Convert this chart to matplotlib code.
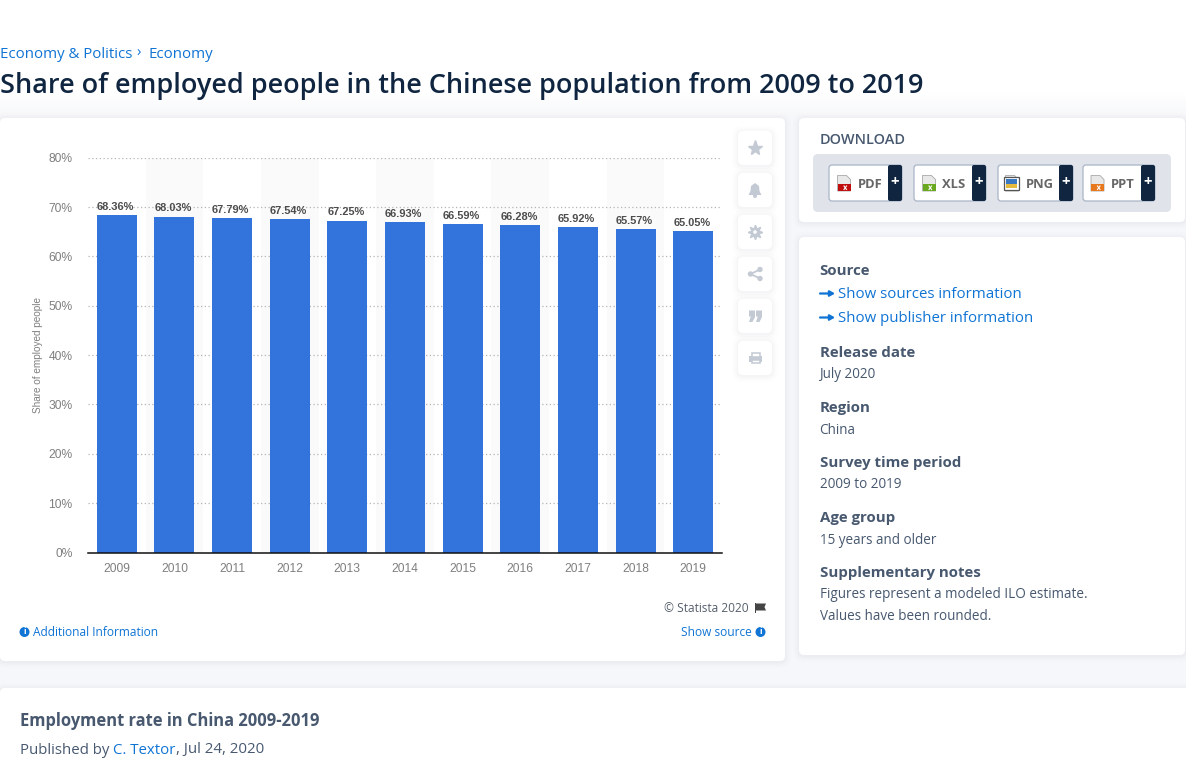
"""Statista page: share of employed people in China, 2009-2019."""
import matplotlib
matplotlib.use('Agg')
import matplotlib.pyplot as plt
from matplotlib.patches import FancyBboxPatch, Rectangle, Polygon, Circle

# ── Data ──────────────────────────────────────────────────────────────────────
YEARS = ['2009', '2010', '2011', '2012', '2013', '2014',
         '2015', '2016', '2017', '2018', '2019']
SHARES = [68.36, 68.03, 67.79, 67.54, 67.25, 66.93,
          66.59, 66.28, 65.92, 65.57, 65.05]
Y_TICKS = [0, 10, 20, 30, 40, 50, 60, 70, 80]
DOWNLOADS = ['PDF', 'XLS', 'PNG', 'PPT']
INFO_BLOCKS = [
    ('Release date', 'July 2020'),
    ('Region', 'China'),
    ('Survey time period', '2009 to 2019'),
    ('Age group', '15 years and older'),
]

# ── Visual style ──────────────────────────────────────────────────────────────
W, H = 1186, 760
PAGE = '#f6f7fa'
NAVY = '#0f2540'
SLATE = '#47586f'
LINK = '#0f74d4'
BAR = '#3273dc'
GREY = '#7f7f7f'
ICON = '#c3cad4'
SANS = 'Open Sans'
ARIAL = 'Liberation Sans'


def px(size):
    # css pixels -> points at dpi 100
    return size * 0.72


fig = plt.figure(figsize=(W / 100, H / 100), dpi=100)
fig.patch.set_facecolor(PAGE)

page = fig.add_axes([0, 0, 1, 1])
page.set_xlim(0, W)
page.set_ylim(H, 0)
page.axis('off')


def card(x0, y0, x1, y1, radius=5, color='white', shadow=True, z=1):
    if shadow:
        for grow, alpha in [(6, 0.006), (4, 0.008), (2.5, 0.010), (1, 0.012)]:
            page.add_patch(FancyBboxPatch(
                (x0 - grow, y0 - grow + 1), x1 - x0 + 2 * grow, y1 - y0 + 2 * grow,
                boxstyle=f'round,pad=0,rounding_size={radius + grow}',
                fc='#2a3a55', ec='none', alpha=alpha, zorder=z))
    page.add_patch(FancyBboxPatch(
        (x0, y0), x1 - x0, y1 - y0, boxstyle=f'round,pad=0,rounding_size={radius}',
        fc=color, ec='none', zorder=z + 0.1))


def label(x, y, s, size=15, color=SLATE, weight='normal', ha='left', family=SANS, **kw):
    return page.text(x, y + 1.5, s, fontsize=px(size), color=color, fontweight=weight,
                     ha=ha, va='center', family=family, zorder=5, **kw)


# ── Header ────────────────────────────────────────────────────────────────────
page.add_patch(Rectangle((0, 0), W, 92, fc='white', ec='none', zorder=0.5))
for step in range(26):
    # the white header fades into the page colour
    page.add_patch(Rectangle((0, 92 + step), W, 1.2, fc='white', ec='none',
                             alpha=1 - step / 26, zorder=0.5))
label(0, 52.5, 'Economy & Politics', 15, LINK)
label(136, 51.5, '›', 15, LINK)
label(148, 52.5, 'Economy', 15, LINK)
label(0, 85, 'Share of employed people in the Chinese population from 2009 to 2019',
      27, NAVY, weight=600)

# ── Cards ─────────────────────────────────────────────────────────────────────
card(0, 118, 785, 661)
card(799, 118, 1185, 222)
card(799, 237, 1185, 655)
card(0, 688, W + 8, H + 10)

# ── Chart ─────────────────────────────────────────────────────────────────────
ax = fig.add_axes([88 / W, 1 - 552.5 / H, 634 / W, 394.8 / H])
ax.patch.set_alpha(0)
ax.set_zorder(3)
positions = range(len(YEARS))
for i in positions:
    if i % 2 == 1:
        ax.axvspan(i - 0.5, i + 0.5, color='#fafafa', lw=0, zorder=0)
ax.bar(positions, SHARES, width=0.695, color=BAR, zorder=3)
for i, v in zip(positions, SHARES):
    ax.annotate(f'{v:.2f}%', (i, v), xytext=(-1, 2.4), textcoords='offset points',
                ha='center', va='bottom', zorder=4, fontsize=px(11), fontweight='bold',
                color='#4d4d4d', family=ARIAL)
ax.set_xlim(-0.5, len(YEARS) - 0.5)
ax.set_ylim(0, 80)
ax.set_xticks(list(positions), YEARS)
ax.set_yticks(Y_TICKS, [f'{t}%' for t in Y_TICKS])
ax.tick_params(length=0, labelsize=px(12), labelcolor=GREY)
ax.tick_params(axis='x', pad=7.4)
ax.tick_params(axis='y', pad=11)
for tl in ax.get_xticklabels() + ax.get_yticklabels():
    tl.set_family(ARIAL)
ax.grid(axis='y', color='#b5b5b5', lw=0.9, ls=(0, (1, 2)), zorder=1)
ax.set_axisbelow(True)
for side in ('top', 'right', 'left'):
    ax.spines[side].set_visible(False)
ax.spines['bottom'].set_color('#111111')
ax.spines['bottom'].set_linewidth(1.1)
ax.spines['bottom'].set_zorder(5)
label(38, 353.5, 'Share of employed people', 10, GREY, ha='center',
      family=ARIAL, rotation=90)

label(748.5, 606.5, '© Statista 2020', 11.9, '#555f6b', ha='right')
page.add_patch(Rectangle((755, 603), 1.2, 10, fc='#444444', ec='none', zorder=5))
page.add_patch(Polygon([(756, 603.5), (766, 603.5), (764.5, 607), (766, 610.5), (756, 610.5)],
                       fc='#444444', ec='none', zorder=5))


def info_dot(x, y):
    page.add_patch(Circle((x, y), 5, fc=LINK, ec='none', zorder=5))
    page.text(x, y, 'i', color='white', fontsize=px(9), fontweight='bold',
              ha='center', va='center', family=ARIAL, zorder=6)


info_dot(24.5, 632)
label(33, 630.5, 'Additional Information', 11.9, LINK)
label(751.5, 630.5, 'Show source', 11.9, LINK, ha='right')
info_dot(760.5, 632)

# ── Side toolbar ──────────────────────────────────────────────────────────────
for y_btn in (131, 173, 215, 257, 299, 341):
    card(738, y_btn, 772, y_btn + 34, radius=5, z=1.5)
page.plot([755], [147.5], marker='*', ms=11, mfc=ICON, mec=ICON, zorder=5)
# bell
page.add_patch(Polygon([(748.5, 195), (750.5, 191), (751, 186), (755, 183), (759, 186),
                        (759.5, 191), (761.5, 195)], fc=ICON, ec='none', zorder=5))
page.add_patch(Circle((755, 196), 2, fc=ICON, ec='none', zorder=4.9))
# gear
page.plot([755], [232], marker=(8, 1, 0), ms=10.5, mfc=ICON, mec=ICON, zorder=5)
page.add_patch(Circle((755, 232), 4.2, fc=ICON, ec='none', zorder=5))
page.add_patch(Circle((755, 232), 1.8, fc='white', ec='none', zorder=5.1))
# share
for yb in (269.5, 278.5):
    page.plot([750.5, 760], [274, yb], color=ICON, lw=1.3, zorder=5)
for xc, yc in [(750.5, 274), (760, 269.5), (760, 278.5)]:
    page.add_patch(Circle((xc, yc), 2.7, fc=ICON, ec='none', zorder=5))
# quote marks
for xq in (749, 756):
    page.add_patch(Polygon([(xq, 310.5), (xq + 6, 310.5), (xq + 6, 317), (xq + 3.5, 322),
                            (xq, 322), (xq + 1.8, 316.5), (xq, 316.5)],
                           fc=ICON, ec='none', zorder=5))
# printer
page.add_patch(Rectangle((749, 356), 13, 6, fc=ICON, ec='none', zorder=5))
page.add_patch(Rectangle((751.5, 353), 8, 3.5, fc='white', ec=ICON, lw=1.1, zorder=5))
page.add_patch(Rectangle((751.5, 359.5), 8, 3.5, fc='white', ec=ICON, lw=1.1, zorder=5.1))

# ── Download box ──────────────────────────────────────────────────────────────
label(819.5, 138, 'DOWNLOAD', 14.5, SLATE, weight=600)
card(813, 154, 1171, 212, radius=5, color='#e0e3e9', shadow=False, z=2)
BTN_X = [(829, 902), (914, 986), (998, 1073), (1083, 1155)]
DARK_W = [888, 972, 1059, 1141]
TXT_X = [857.5, 942.5, 1025.5, 1111]
ICON_COL = ['#c00d0d', '#6aa820', '#3a79c2', '#e8781e']
for (x0, x1), xd, xt, name, col in zip(BTN_X, DARK_W, TXT_X, DOWNLOADS, ICON_COL):
    page.add_patch(FancyBboxPatch((x0, 165), x1 - x0, 36,
                                  boxstyle='round,pad=0,rounding_size=3',
                                  fc='white', ec='#a9b5c6', lw=0.9, zorder=3))
    page.add_patch(FancyBboxPatch((xd, 165), x1 - xd, 36,
                                  boxstyle='round,pad=0,rounding_size=2',
                                  fc=NAVY, ec='none', zorder=3.1))
    page.text((xd + x1) / 2, 182.5, '+', color='white', fontsize=px(15), fontweight='bold',
              ha='center', va='center', family=SANS, zorder=4)
    label(xt, 182.5, name, 13, '#666666', weight='bold')
    ix = xt - 20
    page.add_patch(Polygon([(ix, 175.5), (ix + 9, 175.5), (ix + 13, 179.5), (ix + 13, 191),
                            (ix, 191)], fc='#e8e8e8', ec='#a8a8a8', lw=0.6, zorder=4))
    if name == 'PNG':
        page.add_patch(Rectangle((ix - 2, 177), 15, 13, fc='white', ec='#555555', lw=0.9, zorder=4.1))
        page.add_patch(Rectangle((ix, 179), 11, 5, fc=col, ec='none', zorder=4.2))
        page.add_patch(Rectangle((ix, 184), 11, 4, fc='#e5b93c', ec='none', zorder=4.2))
    else:
        page.add_patch(Rectangle((ix, 184), 13, 7, fc=col, ec='none', zorder=4.1))
        page.plot([ix + 6.5, ix + 9], [189.5, 186], color='white', lw=0.8, zorder=4.2)
        page.plot([ix + 6.5, ix + 9], [186, 189.5], color='white', lw=0.8, zorder=4.2)

# ── Source and details ────────────────────────────────────────────────────────
label(819.5, 269.5, 'Source', 15, SLATE, weight='bold')
for y_link, s in [(293.5, 'Show sources information'), (317.5, 'Show publisher information')]:
    page.annotate('', xy=(835, y_link), xytext=(820, y_link), zorder=5,
                  arrowprops=dict(arrowstyle='-|>,head_width=0.16,head_length=0.28',
                                  color=LINK, lw=1.6, shrinkA=0, shrinkB=0))
    label(838.5, y_link, s, 15, LINK)

y_head = 351.5
for head, body in INFO_BLOCKS:
    label(819.5, y_head, head, 15, SLATE, weight='bold')
    label(819.5, y_head + 22, body, 13.5, SLATE)
    y_head += 55
label(819.5, 571.5, 'Supplementary notes', 15, SLATE, weight='bold')
label(819.5, 593.5, 'Figures represent a modeled ILO estimate.', 13.5, SLATE)
label(819.5, 614.5, 'Values have been rounded.', 13.5, SLATE)

# ── Bottom card ───────────────────────────────────────────────────────────────
label(19.5, 719, 'Employment rate in China 2009-2019', 16.5, SLATE, weight='bold')
label(19.5, 748.5, 'Published by ', 15, SLATE)
label(113, 748.5, 'C. Textor', 15, LINK)
label(176, 748.5, ', Jul 24, 2020', 15, SLATE)

fig.savefig('out.png', dpi=100, facecolor=fig.get_facecolor())
